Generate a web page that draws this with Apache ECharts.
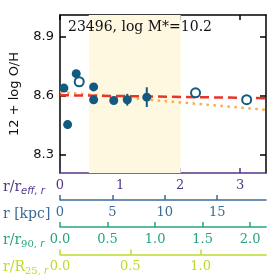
<!DOCTYPE html>
<html><head><meta charset="utf-8">
<script src="https://cdn.jsdelivr.net/npm/echarts@6/dist/echarts.min.js"></script>
<style>html,body{margin:0;padding:0;background:#fff}#c{width:277px;height:277px}</style>
</head><body><div id="c"></div>
<script>
// data (x in r/r_eff,r ; y in 12 + log O/H)
const filledX = [0.066, 0.127, 0.27, 0.56, 0.56, 0.895, 1.12, 1.445];
const filledY = [8.639, 8.454, 8.712, 8.645, 8.580, 8.576, 8.580, 8.593];
const filledErr = [0.008, 0.02, 0.008, 0.008, 0.01, 0.01, 0.03, 0.05];
const openX = [0.32, 2.257, 3.108];
const openY = [8.671, 8.615, 8.580];
const fitX = [0, 3.43];
const fitDashY = [8.603, 8.588];
const fitDotY = [8.619, 8.529];
const bandX = [0.48, 2.01];
const yTicks = [8.3, 8.6, 8.9];
const reffTicks = [0, 1, 2, 3];
const kpcTicks = [0, 5, 10, 15];
const r90Ticks = [0, 0.5, 1.0, 1.5, 2.0];
const r25Ticks = [0, 0.5, 1.0];
const titleText = '23496, log M*=10.2';
const yTitle = '12 + log O/H';

const C_PUR = '#51378b', C_BLU = '#3c6a97', C_GRN = '#27a47e', C_YEL = '#bfda2e';
const C_PT = '#135a80';
const serif = 'DejaVu Serif', sans = 'DejaVu Sans';

function secAxis(max, offset, ticks, color, fmt) {
  return {
    type: 'value', gridIndex: 0, position: 'bottom', offset: offset, min: 0, max: max,
    axisLine: {show: true, onZero: false, lineStyle: {color: color, width: 1.5}},
    axisTick: {show: true, inside: true, length: 5, customValues: ticks, lineStyle: {color: color, width: 1.5}},
    axisLabel: {show: true, customValues: ticks, margin: 6, color: color, fontFamily: serif, fontSize: 13,
      formatter: fmt},
    splitLine: {show: false}
  };
}

const chart = echarts.init(document.getElementById('c'), null, {renderer: 'canvas'});
chart.setOption({
  animation: false,
  grid: {left: 57, right: 11, top: 15, bottom: 104},
  xAxis: [
    secAxis(3.43, 0, reffTicks, C_PUR, v => String(v)),
    {type: 'value', gridIndex: 0, position: 'top', min: 0, max: 3.43,
      axisLine: {show: true, onZero: false, lineStyle: {color: '#000', width: 1.5}},
      axisTick: {show: true, inside: true, length: 5, customValues: reffTicks, lineStyle: {color: '#000', width: 1.5}},
      axisLabel: {show: false}, splitLine: {show: false}},
    secAxis(19.66, 27, kpcTicks, C_BLU, v => String(v)),
    secAxis(2.167, 54, r90Ticks, C_GRN, v => v.toFixed(1)),
    secAxis(1.465, 81.5, r25Ticks, C_YEL, v => v.toFixed(1))
  ],
  yAxis: [
    {type: 'value', min: 8.209, max: 9.009, position: 'left',
      name: yTitle, nameLocation: 'middle', nameGap: 39, nameRotate: 90,
      nameTextStyle: {fontFamily: sans, fontSize: 13, color: '#111'},
      axisLine: {show: true, onZero: false, lineStyle: {color: '#000', width: 1.5}},
      axisTick: {show: true, inside: true, length: 6, customValues: yTicks, lineStyle: {color: '#000', width: 1.5}},
      axisLabel: {show: true, customValues: yTicks, margin: 6, fontFamily: sans, fontSize: 13, color: '#111',
        formatter: v => v.toFixed(1)},
      splitLine: {show: false}},
    {type: 'value', min: 8.209, max: 9.009, position: 'right',
      axisLine: {show: true, onZero: false, lineStyle: {color: '#000', width: 1.5}},
      axisTick: {show: true, inside: true, length: 6, customValues: yTicks, lineStyle: {color: '#000', width: 1.5}},
      axisLabel: {show: false}, splitLine: {show: false}}
  ],
  series: [
    {type: 'line', xAxisIndex: 0, yAxisIndex: 0, data: [], silent: true,
      markArea: {silent: true, itemStyle: {color: '#fef8e1', opacity: 1},
        data: [[{xAxis: bandX[0]}, {xAxis: bandX[1]}]]}},
    {type: 'line', xAxisIndex: 0, yAxisIndex: 0, showSymbol: false, silent: true, z: 3,
      data: fitX.map((x, i) => [x, fitDotY[i]]),
      lineStyle: {color: '#fdaa4a', width: 2.5, type: [2.5, 4.5]}},
    {type: 'line', xAxisIndex: 0, yAxisIndex: 0, showSymbol: false, silent: true, z: 4,
      data: fitX.map((x, i) => [x, fitDashY[i]]),
      lineStyle: {color: '#e8352b', width: 2.5, type: [9, 5]}},
    {type: 'custom', xAxisIndex: 0, yAxisIndex: 0, z: 5, silent: true,
      data: filledX.map((x, i) => [x, filledY[i], filledErr[i]]),
      renderItem: (params, api) => {
        const x = api.value(0), y = api.value(1), e = api.value(2);
        const p1 = api.coord([x, y - e]), p2 = api.coord([x, y + e]);
        return {type: 'line', shape: {x1: p1[0], y1: p1[1], x2: p2[0], y2: p2[1]},
          style: {stroke: C_PT, lineWidth: 2}};
      }},
    {type: 'scatter', xAxisIndex: 0, yAxisIndex: 0, z: 6, symbolSize: 9,
      data: filledX.map((x, i) => [x, filledY[i]]),
      itemStyle: {color: C_PT, opacity: 1}},
    {type: 'scatter', xAxisIndex: 0, yAxisIndex: 0, z: 6, symbolSize: 9,
      data: openX.map((x, i) => [x, openY[i]]),
      itemStyle: {color: '#fff', borderColor: C_PT, borderWidth: 2, opacity: 1}}
  ],
  graphic: [
    {type: 'text', x: 68, y: 27, z: 10, style: {text: titleText, fontFamily: serif, fontSize: 14,
      fill: '#111', verticalAlign: 'middle'}},
    {type: 'text', x: 3, y: 187, style: {text: '{a|r/r}{b|eff, r}', verticalAlign: 'middle',
      rich: {a: {fontFamily: serif, fontSize: 14, fill: C_PUR, verticalAlign: 'bottom'},
             b: {fontFamily: sans, fontStyle: 'italic', fontSize: 10, fill: C_PUR, verticalAlign: 'bottom', padding: [0, 0, -2, 0]}}}},
    {type: 'text', x: 3, y: 214, style: {text: 'r [kpc]', verticalAlign: 'middle',
      fontFamily: serif, fontSize: 14, fill: C_BLU}},
    {type: 'text', x: 3, y: 240, style: {text: '{a|r/r}{b|90, }{c|r}', verticalAlign: 'middle',
      rich: {a: {fontFamily: serif, fontSize: 14, fill: C_GRN, verticalAlign: 'bottom'},
             b: {fontFamily: serif, fontSize: 10, fill: C_GRN, verticalAlign: 'bottom', padding: [0, 0, -2, 0]},
             c: {fontFamily: sans, fontStyle: 'italic', fontSize: 10, fill: C_GRN, verticalAlign: 'bottom', padding: [0, 0, -2, 0]}}}},
    {type: 'text', x: 3, y: 267, style: {text: '{a|r/R}{b|25, }{c|r}', verticalAlign: 'middle',
      rich: {a: {fontFamily: serif, fontSize: 14, fill: C_YEL, verticalAlign: 'bottom'},
             b: {fontFamily: serif, fontSize: 10, fill: C_YEL, verticalAlign: 'bottom', padding: [0, 0, -2, 0]},
             c: {fontFamily: sans, fontStyle: 'italic', fontSize: 10, fill: C_YEL, verticalAlign: 'bottom', padding: [0, 0, -2, 0]}}}}
  ]
});
</script>
</body></html>
